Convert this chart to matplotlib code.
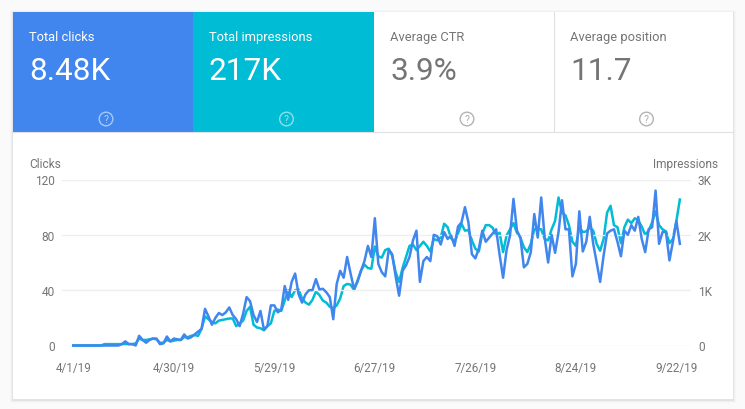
import matplotlib
matplotlib.use('Agg')
import matplotlib.pyplot as plt
import matplotlib.dates as mdates
from matplotlib.patches import Rectangle, Circle
import pandas as pd

plt.rcParams['font.family'] = ['Roboto', 'DejaVu Sans']

# metric tiles
tile_titles = ['Total clicks', 'Total impressions', 'Average CTR', 'Average position']
tile_values = ['8.48K', '217K', '3.9%', '11.7']

# daily values, starting 4/1/19
clicks = [0, 0, 0, 0, 0, 0, 0, 0, 0, 0, 0, 0, 0, 0, 1, 3, 1, 1, 0, 7,
          4, 2, 4, 5, 5, 1, 1.5, 6.5, 3, 5, 4.5, 4, 8, 5, 6, 8, 10, 12, 26.5, 21,
          15, 20, 23.5, 22, 24, 27.5, 22, 19, 14, 23, 35, 32, 22, 17, 25, 11.5, 14, 29, 29, 24,
          26, 43, 33, 46, 52, 37, 31, 37, 40, 40, 48, 40.5, 41, 38.5, 35, 19, 44.5, 54, 49, 64,
          52, 41, 46, 54, 61, 72, 64, 92, 59, 53, 50, 69, 66, 50, 36, 54, 58, 64, 76, 83,
          46, 61, 64, 61, 80, 79, 73, 82, 77, 79.5, 72, 86, 89, 100, 89, 66, 63, 70, 83, 75,
          78, 81, 84, 65.5, 49, 69, 79.5, 106, 83, 78, 56.5, 59, 67.5, 95, 78, 107, 78, 60, 80, 67,
          82, 105, 84, 84, 50, 59, 97, 68, 75, 93, 73.5, 60, 46, 65, 81, 83, 84, 75, 64.5, 83,
          80, 87, 83, 93, 77, 67.5, 84, 85.5, 112, 73.5, 82, 82, 61.5, 75, 90, 73.5]

impressions = [0, 0, 0, 0, 0, 0, 0, 0, 0, 25, 25, 25, 25, 25, 25, 25, 25, 25, 38, 125,
               100, 100, 112, 125, 112, 50, 50, 100, 75, 88, 100, 100, 150, 150, 175, 188, 175, 300, 525, 475,
               425, 400, 450, 462, 475, 488, 488, 350, 400, 450, 625, 700, 375, 325, 312, 275, 350, 400, 625, 650,
               625, 812, 1000, 875, 1000, 1012, 850, 775, 738, 825, 975, 912, 812, 775, 700, 675, 725, 850, 1075, 1112,
               1100, 1000, 1175, 1350, 1462, 1400, 1388, 1788, 1612, 1588, 1725, 1750, 1625, 1325, 1150, 1400, 1600, 1800, 1825, 1725,
               1800, 1875, 1800, 1700, 1925, 1900, 1950, 2200, 2138, 1938, 1875, 2025, 2200, 2075, 2088, 1900, 1750, 1700, 2025, 2175,
               2175, 2125, 1988, 2038, 1688, 1988, 2100, 2212, 2038, 1950, 1775, 1688, 1838, 2100, 2100, 2100, 1925, 1900, 2100, 2250,
               2675, 2400, 2350, 2175, 1875, 1800, 2138, 2050, 2062, 2138, 2075, 1838, 1712, 1925, 2400, 2525, 2175, 2138, 1850, 2138,
               2275, 2212, 2300, 2262, 2150, 2000, 2075, 2225, 2425, 2175, 2100, 2062, 1850, 1925, 2250, 2638]

dates = pd.date_range('2019-04-01', periods=len(clicks))

tick_dates = pd.to_datetime(['2019-04-01', '2019-04-30', '2019-05-29', '2019-06-27',
                             '2019-07-26', '2019-08-24', '2019-09-22'])
tick_labels = ['4/1/19', '4/30/19', '5/29/19', '6/27/19', '7/26/19', '8/24/19', '9/22/19']
clicks_ticks = [0, 40, 80, 120]
impressions_ticks = [0, 1000, 2000, 3000]
impressions_labels = ['0', '1K', '2K', '3K']

W, H = 745, 410
BLUE = '#4086ee'
CYAN = '#00bcd4'
GREY = '#757575'

fig = plt.figure(figsize=(W / 100, H / 100), dpi=100, facecolor='#fafafa')

# background layer in pixel coordinates
bg = fig.add_axes([0, 0, 1, 1])
bg.set_xlim(0, W)
bg.set_ylim(H, 0)
bg.axis('off')

# soft shadow around the card
for grow, alpha in [(3, 0.015), (2, 0.025), (1, 0.05)]:
    bg.add_patch(Rectangle((13 - grow, 13 - grow + 1), 720 + 2 * grow, 387 + 2 * grow,
                           facecolor='black', edgecolor='none', alpha=alpha))
bg.add_patch(Rectangle((13, 13), 720, 387, facecolor='white', edgecolor='none'))

edges = [13, 193, 374, 554, 733]
fills = [BLUE, CYAN, 'white', 'white']
for i in range(4):
    x0, x1 = edges[i], edges[i + 1]
    bg.add_patch(Rectangle((x0, 13), x1 - x0, 120, facecolor=fills[i], edgecolor='none'))
    color = 'white' if i < 2 else GREY
    bg.text(x0 + 16, 37.5, tile_titles[i], color=color, fontsize=9.3, va='center', ha='left')
    bg.text(x0 + 16, 72, tile_values[i], color=color, fontsize=22.7, va='center', ha='left')
    cx = (x0 + x1) / 2 + 3
    bg.add_patch(Circle((cx, 120), 6.8, facecolor='none', edgecolor=color, linewidth=1.0, alpha=0.55))
    bg.text(cx, 120.3, '?', color=color, fontsize=7.5, va='center', ha='center', alpha=0.6)

# dividers between tiles and under them
bg.plot([554, 554], [13, 133], color='#e0e0e0', lw=0.8)
bg.plot([13, 733], [133, 133], color='#e0e0e0', lw=0.8)

bg.text(29, 165, 'Clicks', color=GREY, fontsize=8.6, va='center', ha='left')
bg.text(718, 165, 'Impressions', color=GREY, fontsize=8.6, va='center', ha='right')

# chart, clicks on the left axis
ax = fig.add_axes([62 / W, 1 - 346.5 / H, (691 - 62) / W, (346.5 - 180.5) / H])
ax.patch.set_alpha(0)
ax2 = ax.twinx()

ax.set_ylim(0, 120)
ax2.set_ylim(0, 3000)
day = mdates.date2num(dates[0])
ax.set_xlim(day - 11.3 / 3.466, day + 617.7 / 3.466)

ax.grid(axis='y', color='#eeeeee', lw=1.0)
ax.set_axisbelow(True)

ax2.plot(dates, impressions, color=CYAN, lw=1.8, clip_on=False, solid_joinstyle='round')
ax2.set_zorder(1)
ax.set_zorder(2)
ax.plot(dates, clicks, color=BLUE, lw=1.8, clip_on=False, solid_joinstyle='round')

ax.set_yticks(clicks_ticks)
ax2.set_yticks(impressions_ticks)
ax2.set_yticklabels(impressions_labels)
ax.set_xticks(tick_dates)
ax.set_xticklabels(tick_labels)

ax.tick_params(axis='x', length=0, labelsize=8.4, labelcolor=GREY, pad=11)
ax.tick_params(axis='y', length=0, labelsize=8.6, labelcolor=GREY, pad=5)
ax2.tick_params(axis='y', length=0, labelsize=8.6, labelcolor=GREY, pad=5)
for lab in ax.get_yticklabels() + ax2.get_yticklabels():
    lab.set_verticalalignment('center_baseline')

for a in (ax, ax2):
    for s in a.spines.values():
        s.set_visible(False)

fig.savefig('out.png', dpi=100, facecolor=fig.get_facecolor())
